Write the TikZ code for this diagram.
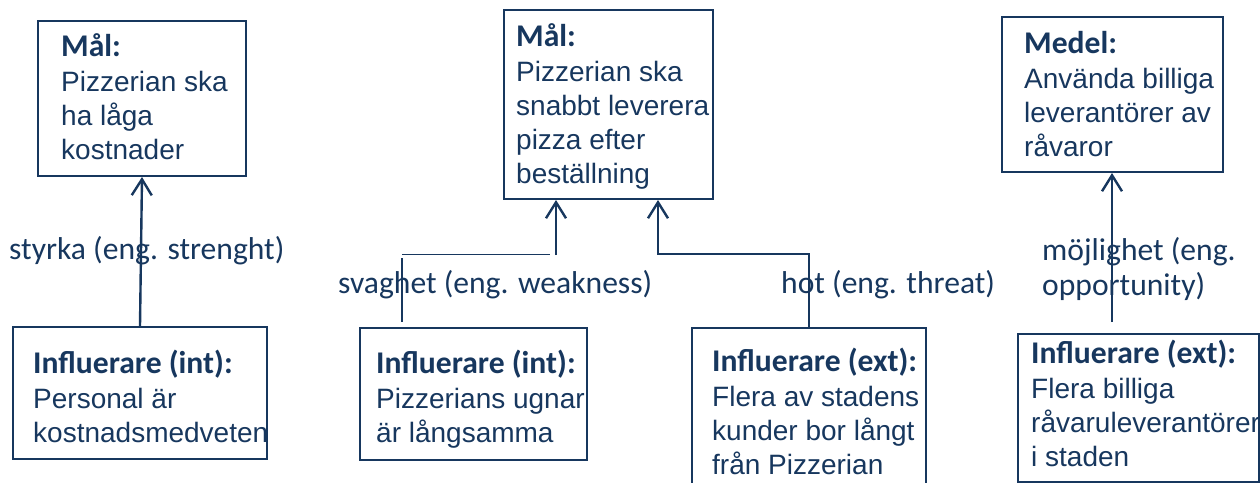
\documentclass[tikz,border=0pt]{standalone}
\usepackage{fontspec}
\setmainfont{Liberation Sans}
\newfontfamily\calfont{Carlito}
\usetikzlibrary{arrows.meta}
\definecolor{navy}{HTML}{17375E}
\newcommand{\hd}[1]{{\calfont\bfseries\fontsize{31.6}{34}\selectfont #1}}
\tikzset{
  boxnode/.style={draw=navy, line width=2pt, inner sep=0pt, anchor=north west},
  txtnode/.style={inner sep=0pt, anchor=base west, text=navy, font=\fontsize{28}{34}\selectfont},
  lblnode/.style={inner sep=0pt, anchor=base west, text=navy, font=\calfont\fontsize{31.6}{35}\selectfont},
  arr/.style={draw=navy, line width=2.4pt, -{Straight Barb[length=16pt,width=20pt,line width=2.4pt]}},
  thinln/.style={draw=navy, line width=1.3pt},
  midln/.style={draw=navy, line width=2pt, -{Straight Barb[length=16pt,width=20pt,line width=2.4pt]}}
}
\begin{document}
\begin{tikzpicture}[x=1pt,y=-1pt]
\useasboundingbox (0,0) rectangle (1260,482);
\clip (0,0) rectangle (1260,482);
% boxes
\node[boxnode, minimum width=208, minimum height=155] (g1) at (37,20) {};
\node[boxnode, minimum width=209, minimum height=189] (g2) at (503,9) {};
\node[boxnode, minimum width=221, minimum height=155] (g3) at (1001,16) {};
\node[boxnode, minimum width=254, minimum height=132] (i1) at (12,326) {};
\node[boxnode, minimum width=227, minimum height=132] (i2) at (359,327) {};
\node[boxnode, minimum width=234, minimum height=180] (i3) at (691,327) {};
\node[boxnode, minimum width=241, minimum height=148] (i4) at (1017,333) {};
% texts
\node[txtnode] (t1) at (61,56) {\begin{tabular}[t]{@{}l@{}}\hd{Mål:}\\[1.5pt] Pizzerian ska\\ ha låga\\ kostnader\end{tabular}};
\node[txtnode] (t2) at (516,46) {\begin{tabular}[t]{@{}l@{}}\hd{Mål:}\\[1.5pt] Pizzerian ska\\ snabbt leverera\\ pizza efter\\ beställning\end{tabular}};
\node[txtnode] (t3) at (1024,53) {\begin{tabular}[t]{@{}l@{}}\hd{Medel:}\\[1.5pt] Använda billiga\\ leverantörer av\\ råvaror\end{tabular}};
\node[txtnode] (t4) at (33,373) {\begin{tabular}[t]{@{}l@{}}\hd{Influerare (int):}\\[1.5pt] Personal är\\ kostnadsmedveten\end{tabular}};
\node[txtnode] (t5) at (376,373) {\begin{tabular}[t]{@{}l@{}}\hd{Influerare (int):}\\[1.5pt] Pizzerians ugnar\\ är långsamma\end{tabular}};
\node[txtnode] (t6) at (712,371) {\begin{tabular}[t]{@{}l@{}}\hd{Influerare (ext):}\\[1.5pt] Flera av stadens\\ kunder bor långt\\ från Pizzerian\end{tabular}};
\node[txtnode] (t7) at (1031,363) {\begin{tabular}[t]{@{}l@{}}\hd{Influerare (ext):}\\[1.5pt] Flera billiga\\ råvaruleverantörer\\ i staden\end{tabular}};
% labels
\node[lblnode] (l1) at (9,259) {styrka (eng. strenght)};
\node[lblnode] (l2) at (338,293) {svaghet (eng. weakness)};
\node[lblnode] (l3) at (781,293) {hot (eng. threat)};
\node[lblnode] (l4) at (1042,260) {\begin{tabular}[t]{@{}l@{}}möjlighet (eng.\\ opportunity)\end{tabular}};
% connectors
\draw[arr] (i1.north) -- (g1.south);
\coordinate (wa) at (556,255);
\coordinate (wb) at (402,254.3);
\coordinate (wc) at (550,254.3);
\coordinate (wd) at (402,258);
\coordinate (we) at (402,322);
\draw[arr] (wa) -- (wa |- g2.south);
\draw[thinln] (wb) -- (wc);
\draw[thinln] (wd) -- (we);
\coordinate (ha) at (658,254);
\draw[midln] (i3.north) |- (ha) -- (ha |- g2.south);
\coordinate (ma) at (1112,322);
\draw[arr] (ma) -- (ma |- g3.south);
\end{tikzpicture}
\end{document}
